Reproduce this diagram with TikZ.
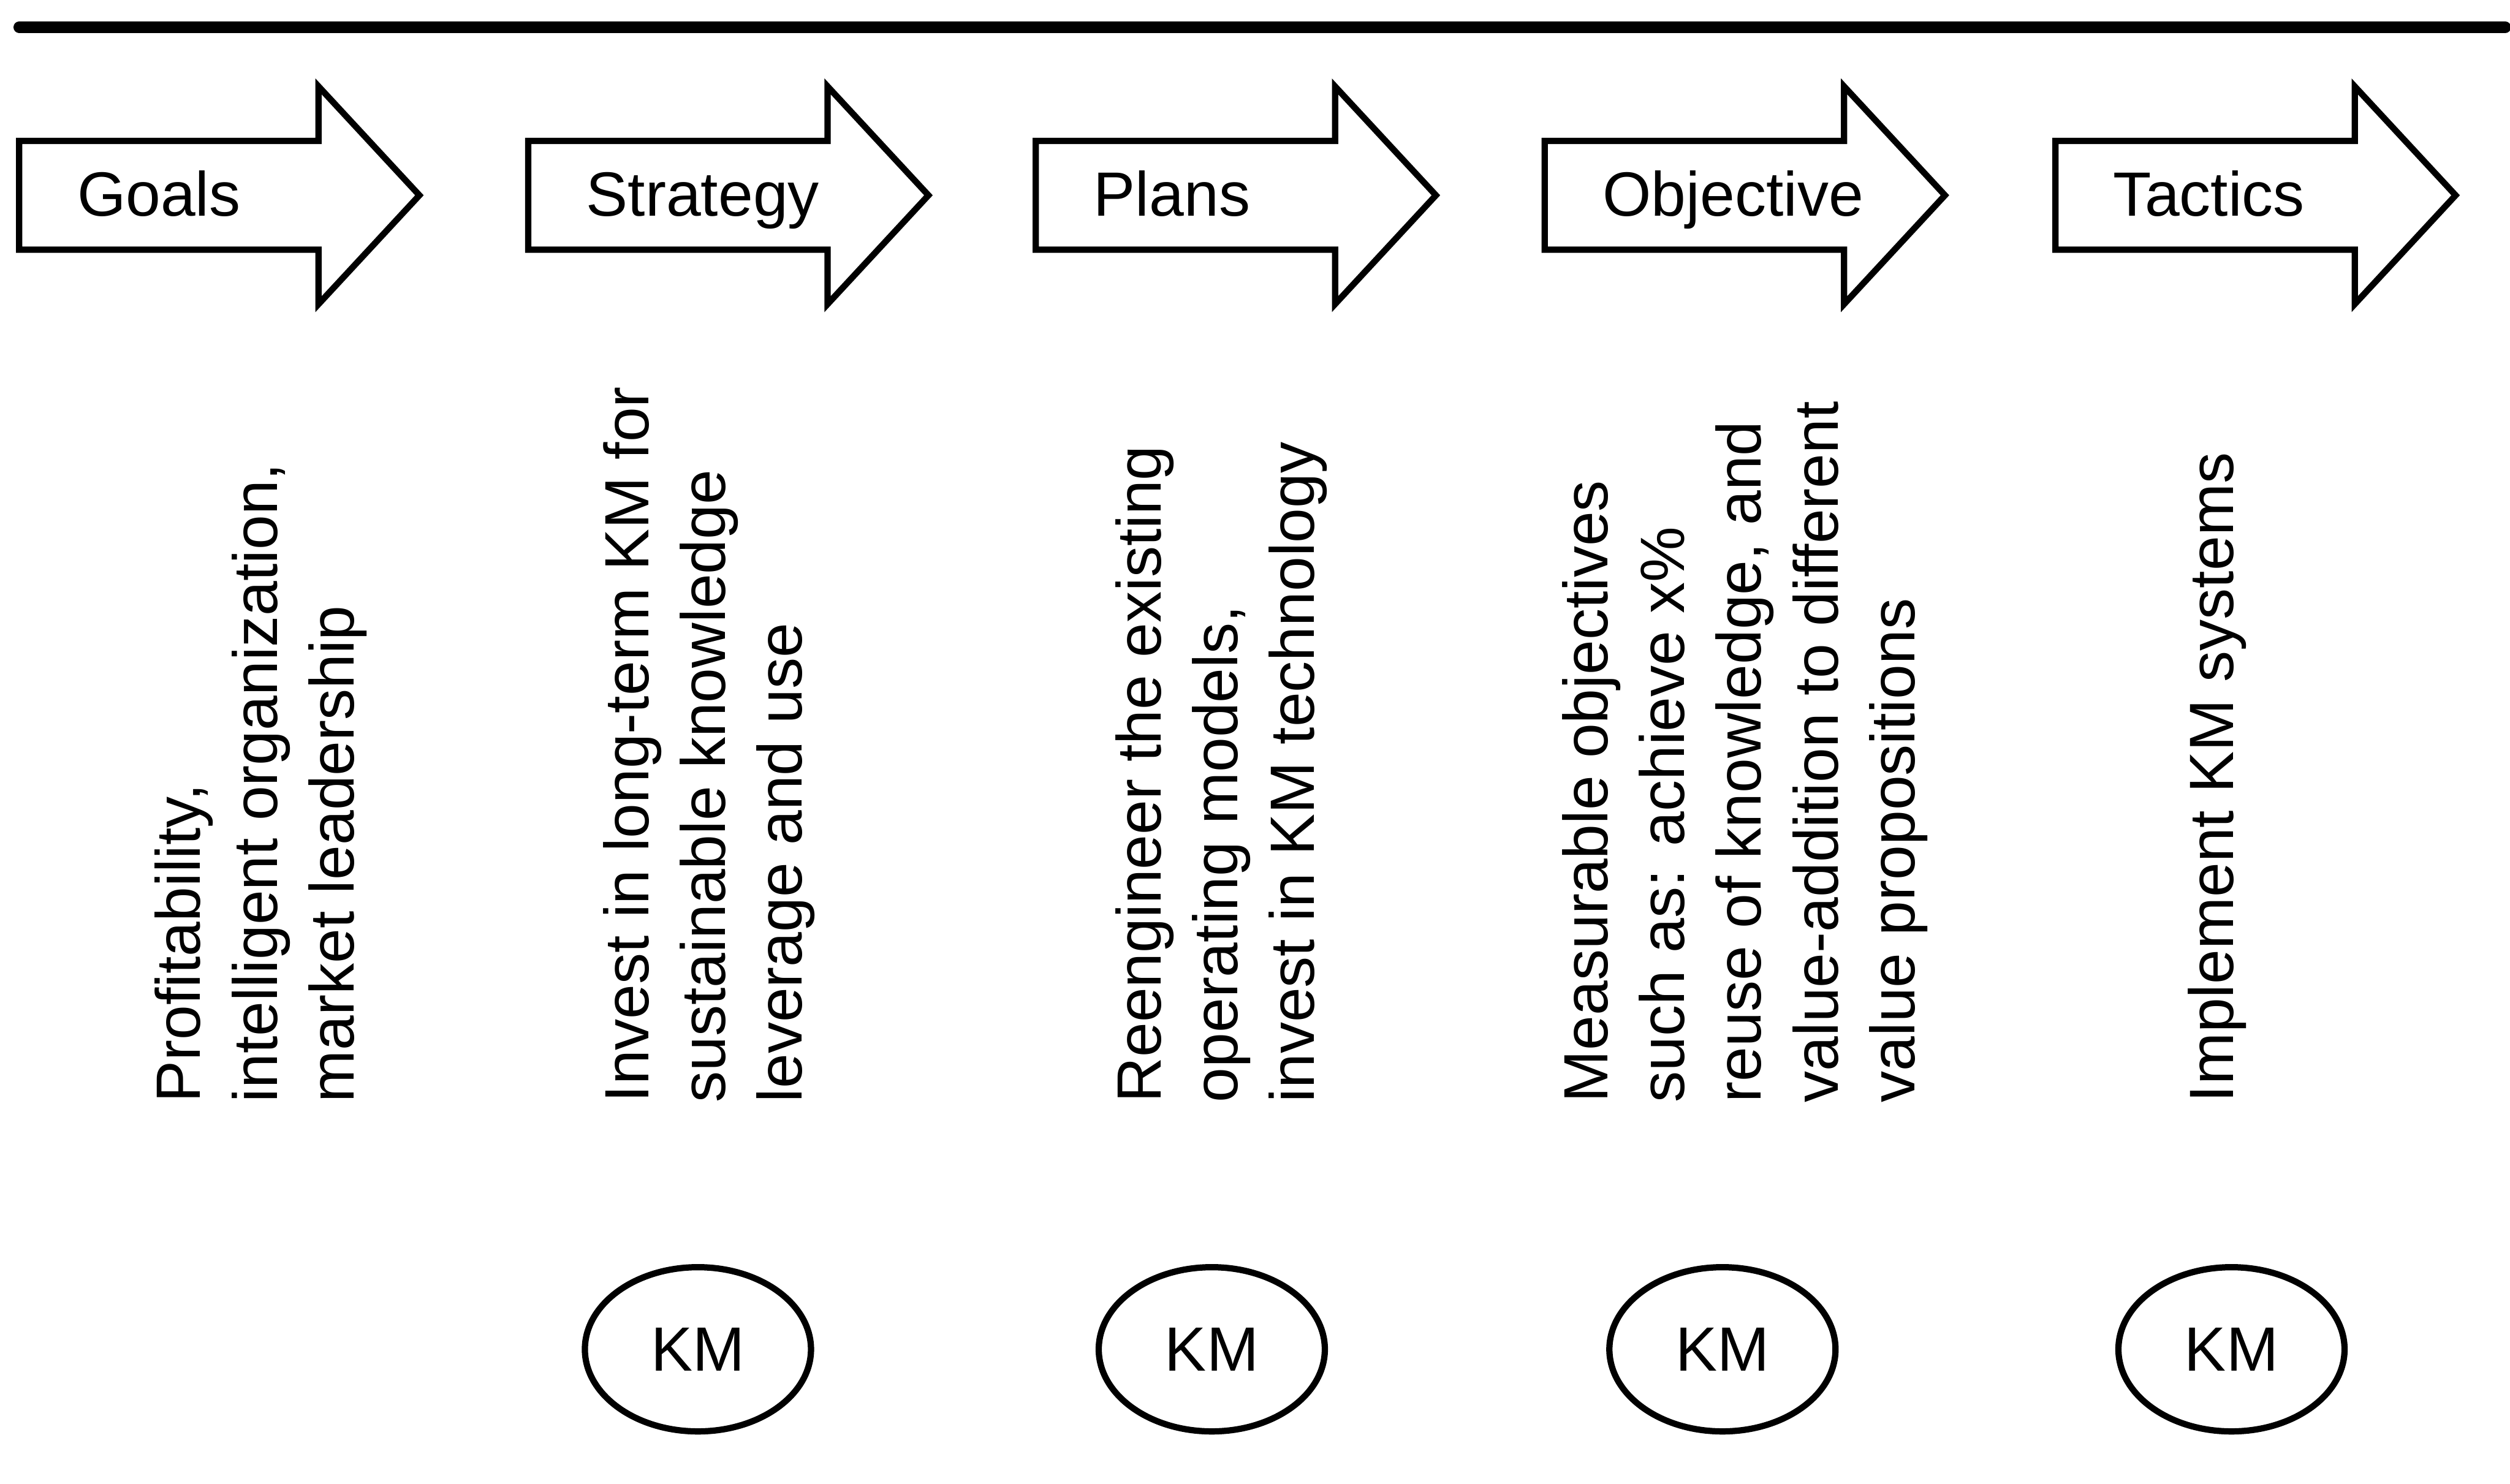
\documentclass[tikz,border=0pt]{standalone}
\usepackage{fontspec}
\setmainfont{Liberation Sans}
\usetikzlibrary{shapes.geometric}
\begin{document}
\begin{tikzpicture}[x=0.026907cm,y=-0.026907cm,
  lbl/.style={font=\fontsize{29.9}{36.7}\selectfont, inner sep=0pt},
  coltext/.style={lbl, rotate=90, anchor=west, align=left},
  stagearrow/.style={draw=black, line width=3pt, fill=white},
  kmoval/.style={ellipse, draw=black, line width=3pt, minimum width=3.80cm,
    minimum height=2.76cm, inner sep=0pt, font=\fontsize{29.9}{36.7}\selectfont},
  rule/.style={line width=5.5pt, line cap=round}]
\useasboundingbox (0,0) rectangle (1568,927);

% heading rule
\coordinate (ruleL) at (12,17);
\coordinate (ruleR) at (1565,17);
\draw[rule] (ruleL) -- (ruleR);

% stage arrows with their captions
\foreach \L/\name/\txt in {12/goals/Goals, 330/strategy/Strategy, 647/plans/Plans,
                          965/objective/Objective, 1284/tactics/Tactics}{
  \draw[stagearrow] (\L,88) -- (\L+187,88) -- (\L+187,54) -- (\L+250,122)
     -- (\L+187,190) -- (\L+187,156) -- (\L,156) -- cycle;
  \node[lbl, anchor=base west] (\name) at (\L+36,135) {\txt};
}

% descriptions, set vertically
\node[coltext] (goalsdesc) at (163,689)
  {Profitability,\\intelligent organization,\\market leadership};
\node[coltext] (strategydesc) at (443,689)
  {Invest in long-term KM for\\sustainable knowledge\\leverage and use};
\node[coltext] (plansdesc) at (763,689)
  {Reengineer the existing\\operating models,\\invest in KM technology};
\node[coltext] (objectivedesc) at (1090,689)
  {Measurable objectives\\such as: achieve x\%\\reuse of knowledge, and\\value-addition to different\\value propositions};
\node[coltext] (tacticsdesc) at (1385,689)
  {Implement KM systems};

% KM markers
\node[kmoval] (km1) at (436,843) {KM};
\node[kmoval] (km2) at (757,843) {KM};
\node[kmoval] (km3) at (1076,843) {KM};
\node[kmoval] (km4) at (1394,843) {KM};
\end{tikzpicture}
\end{document}
